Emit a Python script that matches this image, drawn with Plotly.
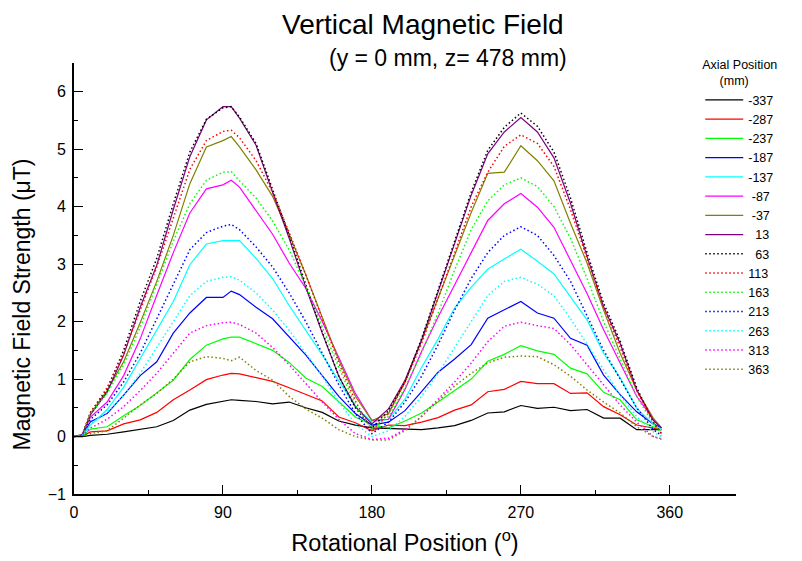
import plotly.graph_objects as go

# Rotational position (degrees)
angle = [0, 5, 10, 20, 30, 40, 50, 60, 70, 80, 90, 95, 100, 110, 120, 130, 140, 150, 160, 170, 180,
         190, 200, 210, 220, 230, 240, 250, 260, 270, 280, 290, 300, 310, 320, 330, 340, 350, 355]

axial_labels = ["-337", "-287", "-237", "-187", "-137", "-87", "-37", "13",
                "63", "113", "163", "213", "263", "313", "363"]

b_m337 = [0, 0, 0.02, 0.04, 0.08, 0.12, 0.17, 0.28, 0.46, 0.56, 0.62, 0.64, 0.63, 0.61, 0.57, 0.6, 0.5, 0.42, 0.27, 0.2, 0.15,
          0.14, 0.14, 0.12, 0.15, 0.19, 0.28, 0.41, 0.43, 0.54, 0.49, 0.51, 0.45, 0.47, 0.32, 0.32, 0.12, 0.12, 0.12]
b_m287 = [0, 0.01, 0.08, 0.1, 0.22, 0.29, 0.42, 0.64, 0.81, 0.99, 1.07, 1.1, 1.09, 1.03, 0.96, 0.85, 0.74, 0.62, 0.34, 0.24, 0.1,
          0.2, 0.19, 0.25, 0.33, 0.46, 0.55, 0.78, 0.82, 0.96, 0.92, 0.92, 0.75, 0.76, 0.52, 0.38, 0.2, 0.14, 0.12]
b_m237 = [0, 0.01, 0.13, 0.17, 0.36, 0.54, 0.76, 0.98, 1.34, 1.59, 1.7, 1.73, 1.73, 1.62, 1.5, 1.29, 1.02, 0.87, 0.6, 0.34, 0.2,
          0.15, 0.27, 0.41, 0.6, 0.8, 1.0, 1.31, 1.43, 1.58, 1.49, 1.43, 1.19, 1.09, 0.77, 0.64, 0.29, 0.17, 0.12]
b_m187 = [0, 0.02, 0.26, 0.4, 0.72, 1.06, 1.3, 1.8, 2.15, 2.42, 2.42, 2.53, 2.47, 2.25, 2.05, 1.73, 1.42, 1.06, 0.7, 0.4, 0.2,
          0.25, 0.45, 0.78, 1.12, 1.35, 1.6, 2.06, 2.21, 2.35, 2.15, 2.06, 1.71, 1.59, 1.07, 0.73, 0.43, 0.22, 0.15]
b_m137 = [0, 0.02, 0.2, 0.47, 0.86, 1.35, 1.85, 2.35, 2.99, 3.35, 3.41, 3.41, 3.41, 3.1, 2.75, 2.28, 1.86, 1.42, 0.97, 0.52, 0.25,
          0.3, 0.65, 1.2, 1.7, 2.24, 2.6, 2.91, 3.09, 3.26, 3.05, 2.83, 2.43, 2.03, 1.45, 1.02, 0.49, 0.22, 0.12]
b_m87 = [0, 0.03, 0.34, 0.6, 1.06, 1.7, 2.46, 3.2, 3.89, 4.31, 4.38, 4.46, 4.34, 3.92, 3.52, 3.02, 2.58, 2.0, 1.38, 0.75, 0.28,
         0.3, 0.82, 1.48, 2.08, 2.65, 3.2, 3.76, 4.05, 4.23, 3.99, 3.64, 3.07, 2.49, 1.86, 1.28, 0.7, 0.3, 0.15]
b_m37 = [0, 0.03, 0.4, 0.8, 1.3, 1.98, 2.7, 3.5, 4.4, 5.04, 5.15, 5.22, 5.04, 4.64, 4.18, 3.52, 2.82, 2.08, 1.33, 0.7, 0.28,
         0.4, 0.95, 1.66, 2.4, 3.13, 3.9, 4.58, 4.6, 5.06, 4.8, 4.45, 3.71, 3.02, 2.2, 1.45, 0.81, 0.32, 0.15]
b_p13 = [0, 0.03, 0.38, 0.77, 1.42, 2.25, 2.98, 3.95, 4.87, 5.51, 5.74, 5.74, 5.54, 5.07, 4.25, 3.45, 2.6, 1.8, 1.05, 0.52, 0.22,
         0.48, 0.98, 1.68, 2.52, 3.35, 4.2, 4.92, 5.3, 5.55, 5.3, 4.85, 4.06, 3.13, 2.26, 1.62, 0.81, 0.28, 0.15]
b_p63 = [0, 0.03, 0.42, 0.82, 1.5, 2.35, 3.1, 4.05, 4.95, 5.52, 5.72, 5.74, 5.56, 5.1, 4.3, 3.5, 2.65, 1.82, 1.05, 0.5, 0.15,
         0.45, 0.95, 1.7, 2.55, 3.4, 4.25, 4.98, 5.38, 5.63, 5.4, 4.95, 4.15, 3.2, 2.32, 1.66, 0.85, 0.25, 0.05]
b_p113 = [0, 0.03, 0.42, 0.85, 1.45, 2.2, 2.95, 3.8, 4.65, 5.15, 5.31, 5.33, 5.2, 4.8, 4.25, 3.55, 2.82, 2.05, 1.28, 0.62, 0.1,
          0.4, 0.95, 1.62, 2.4, 3.2, 4.0, 4.6, 5.05, 5.25, 5.1, 4.7, 3.95, 3.08, 2.25, 1.55, 0.8, 0.25, 0.05]
b_p163 = [0, 0.03, 0.4, 0.75, 1.25, 1.9, 2.65, 3.4, 4.05, 4.46, 4.6, 4.61, 4.45, 4.15, 3.75, 3.25, 2.62, 1.92, 1.2, 0.55, 0.12,
          0.35, 0.85, 1.45, 2.15, 2.9, 3.6, 4.1, 4.38, 4.5, 4.35, 4.0, 3.45, 2.75, 2.0, 1.35, 0.7, 0.22, 0.05]
b_p213 = [0, 0.02, 0.3, 0.55, 0.95, 1.45, 2.05, 2.65, 3.25, 3.55, 3.66, 3.69, 3.6, 3.3, 2.95, 2.5, 2.0, 1.45, 0.9, 0.4, 0.05,
          0.25, 0.6, 1.05, 1.6, 2.2, 2.75, 3.2, 3.5, 3.65, 3.5, 3.15, 2.7, 2.1, 1.5, 1.0, 0.5, 0.12, 0.02]
b_p263 = [0, 0.02, 0.22, 0.42, 0.72, 1.1, 1.55, 2.0, 2.45, 2.7, 2.77, 2.78, 2.72, 2.5, 2.2, 1.85, 1.45, 1.05, 0.6, 0.22, 0.0,
          0.1, 0.35, 0.7, 1.1, 1.55, 2.0, 2.45, 2.7, 2.77, 2.65, 2.45, 2.05, 1.6, 1.15, 0.72, 0.35, 0.08, 0.0]
b_p313 = [0, 0.01, 0.15, 0.3, 0.52, 0.8, 1.1, 1.45, 1.8, 1.93, 1.98, 1.99, 1.95, 1.8, 1.55, 1.25, 0.92, 0.6, 0.3, 0.05, -0.05,
          -0.03, 0.12, 0.35, 0.65, 0.95, 1.28, 1.65, 1.92, 1.99, 1.93, 1.88, 1.6, 1.25, 0.88, 0.55, 0.25, 0.0, -0.05]
b_p363 = [0, 0.01, 0.05, 0.1, 0.32, 0.55, 0.75, 1.0, 1.3, 1.39, 1.36, 1.32, 1.38, 1.15, 0.98, 0.7, 0.48, 0.32, 0.12, 0.0, -0.06,
          -0.06, 0.1, 0.35, 0.62, 0.88, 1.1, 1.28, 1.38, 1.4, 1.39, 1.25, 1.05, 0.81, 0.6, 0.41, 0.17, 0.0, -0.04]

series = [b_m337, b_m287, b_m237, b_m187, b_m137, b_m87, b_m37, b_p13,
          b_p63, b_p113, b_p163, b_p213, b_p263, b_p313, b_p363]
colors = ["#000000", "#ff0000", "#00ff00", "#0000ff", "#00ffff", "#ff00ff", "#808000", "#800080",
          "#000000", "#ff0000", "#00ff00", "#0000ff", "#00ffff", "#ff00ff", "#808000"]
dashes = ["solid"] * 8 + ["1.5px,2.5px"] * 7
# leading padding so the numbers sit roughly right-aligned like the original legend
pads = {"-87": 1, "-37": 1, "13": 2, "63": 2}

FONT = "Liberation Sans, Arial, Helvetica, sans-serif"

fig = go.Figure()
for lab, ys, c, d in zip(axial_labels, series, colors, dashes):
    name = "\u00a0" * pads.get(lab, 0) + lab
    fig.add_trace(go.Scatter(
        x=angle, y=ys, mode="lines", name=name,
        line=dict(color=c, width=1.2 if d == "solid" else 1.5, dash=d),
    ))

fig.update_layout(
    width=802, height=561,
    margin=dict(l=74, r=66, t=63, b=67, autoexpand=False),
    paper_bgcolor="white", plot_bgcolor="white",
    font=dict(family=FONT, color="black"),
    showlegend=True,
    legend=dict(
        x=0.946, y=1.024, xanchor="left", yanchor="top",
        bgcolor="rgba(0,0,0,0)", borderwidth=0,
        font=dict(size=12.5, family=FONT),
        title=dict(text="Axial Position<br>\u00a0\u00a0\u00a0\u00a0\u00a0(mm)", font=dict(size=12.5, family=FONT)),
        itemwidth=38, maxheight=520,
    ),
    annotations=[
        dict(text="Vertical Magnetic Field", xref="paper", yref="paper", x=0.527, y=1.09,
             xanchor="center", yanchor="middle", showarrow=False, font=dict(size=28, family=FONT)),
        dict(text="(y = 0 mm, z= 478 mm)", xref="paper", yref="paper", x=0.565, y=1.012,
             xanchor="center", yanchor="middle", showarrow=False, font=dict(size=23, family=FONT)),
        # y-axis title (placed as in the original, slightly below the axis centre)
        dict(text="Magnetic Field Strength (\u03bcT)", xref="paper", yref="paper", x=-0.0785, y=0.44,
             xanchor="center", yanchor="middle", textangle=-90, showarrow=False,
             font=dict(size=23, family=FONT)),
    ],
)

fig.update_xaxes(
    range=[0, 400], tickvals=[0, 90, 180, 270, 360], ticks="inside", ticklen=9, tickwidth=1.3,
    tickcolor="black", showline=True, linecolor="black", linewidth=1.8, showgrid=False, zeroline=False,
    tickfont=dict(size=16, family=FONT), ticklabelstandoff=3,
    minor=dict(tickvals=[45, 135, 225, 315], ticks="inside", ticklen=4, tickcolor="black", tickwidth=1.3, showgrid=False),
    title=dict(text="Rotational Position (<sup>o</sup>)", font=dict(size=23.5, family=FONT), standoff=14),
)
fig.update_yaxes(
    range=[-1, 6.5], tickvals=[-1, 0, 1, 2, 3, 4, 5, 6], ticks="inside", ticklen=9, tickwidth=1.3,
    tickcolor="black", showline=True, linecolor="black", linewidth=1.8, showgrid=False, zeroline=False,
    tickfont=dict(size=16, family=FONT), ticklabelstandoff=3,
    minor=dict(tickvals=[-0.5, 0.5, 1.5, 2.5, 3.5, 4.5, 5.5], ticks="inside", ticklen=4, tickcolor="black",
               tickwidth=1.3, showgrid=False),
)

fig.write_html("out.html")
